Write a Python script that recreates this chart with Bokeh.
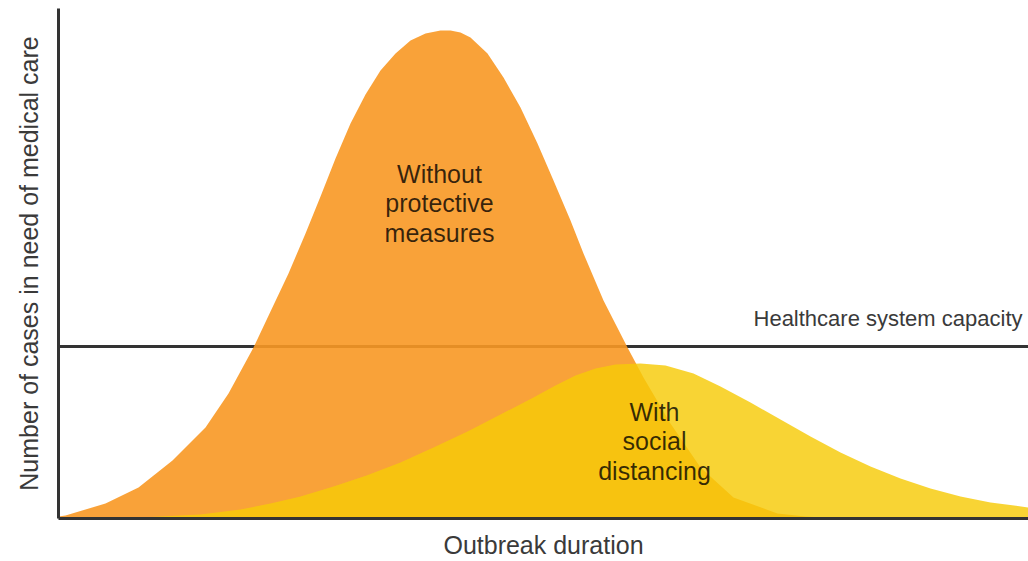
from bokeh.plotting import figure
from bokeh.models import Span, Label, FixedTicker
from bokeh.embed import file_html
from bokeh.resources import INLINE

# ---- data ----
x_label = "Outbreak duration"
y_label = "Number of cases in need of medical care"
capacity_label = "Healthcare system capacity"
label_without = "Without\nprotective\nmeasures"
label_with = "With\nsocial\ndistancing"

capacity = 34.4

without_x = [0, 0.7, 4.7, 8.0, 11.4, 14.7, 17.0, 19.5, 21.2, 23.0, 24.7, 26.2, 27.7,
             29.2, 30.7, 32.2, 33.7, 35.2, 36.7, 38.2, 39.2, 40.2, 41.2, 42.9, 44.5,
             46.2, 47.9, 49.5, 51.2, 52.5, 54.5, 56.9, 58.5, 61.2, 64.2, 67.5, 71.9,
             74.7, 78.2]
without_y = [0.4, 0.6, 3.0, 6.2, 11.6, 18.2, 25.0, 34.2, 41.4, 49.0, 57.0, 64.4, 72.0,
             79.0, 84.8, 89.6, 93.0, 95.6, 97.0, 97.6, 97.6, 97.2, 96.2, 93.0, 88.2,
             82.2, 75.0, 67.6, 59.6, 53.0, 43.6, 34.2, 28.2, 19.0, 10.2, 4.2, 1.0,
             0.4, 0.0]

with_x = [0, 4.2, 9.2, 14.2, 18.2, 21.2, 24.2, 27.5, 30.8, 34.2, 37.5, 40.9, 44.2,
          47.5, 49.7, 51.7, 53.7, 55.7, 58.2, 60.7, 63.5, 66.2, 69.2, 72.2, 75.2,
          78.2, 81.2, 84.2, 87.2, 90.2, 93.2, 97.0]
with_y = [0.0, 0.06, 0.3, 0.8, 1.8, 3.0, 4.4, 6.4, 8.6, 11.2, 14.2, 17.4, 20.8,
          24.2, 26.6, 28.6, 30.0, 30.8, 31.0, 30.6, 29.0, 26.4, 23.2, 19.8, 16.4,
          13.2, 10.4, 8.0, 6.0, 4.4, 3.2, 2.2]

# ---- figure ----
p = figure(width=1028, height=561, x_range=(0, 97), y_range=(0, 102),
           output_backend="svg", toolbar_location=None,
           min_border_left=58, min_border_right=0, min_border_top=8, min_border_bottom=43)
p.outline_line_color = None
p.grid.visible = False
p.background_fill_color = "white"

span = Span(location=capacity, dimension="width", line_color="#333333", line_width=3, level="underlay")
p.add_layout(span)

p.varea(x=without_x, y1=0, y2=without_y, fill_color="#F89824", fill_alpha=0.9)
p.varea(x=with_x, y1=0, y2=with_y, fill_color="#F6CA07", fill_alpha=0.82)

for ax in (p.xaxis[0], p.yaxis[0]):
    ax.ticker = FixedTicker(ticks=[])
    ax.major_tick_in = 0
    ax.major_tick_out = 0
    ax.minor_tick_in = 0
    ax.minor_tick_out = 0
    ax.major_label_standoff = 0
    ax.axis_line_color = "#333333"
    ax.axis_line_width = 3
    ax.axis_label_text_font = "Liberation Sans"
    ax.axis_label_text_font_style = "normal"
    ax.axis_label_text_font_size = "25px"
    ax.axis_label_text_color = "#3a3a3a"

p.xaxis.axis_label = x_label
p.xaxis.axis_label_standoff = 12
p.yaxis.axis_label = y_label
p.yaxis.axis_label_standoff = 16

common = dict(text_font="Liberation Sans", text_font_size="25px", text_color="black",
              text_alpha=0.78, text_align="center", text_baseline="middle", text_line_height=1.04)
p.add_layout(Label(x=38.1, y=63, text=label_without, **common))
p.add_layout(Label(x=59.6, y=15.4, text=label_with, **common))
p.add_layout(Label(x=96.4, y=40, text=capacity_label, text_font="Liberation Sans",
                   text_font_size="22px", text_color="#3a3a3a", text_align="right",
                   text_baseline="middle"))

open("out.html", "w").write(file_html(p, INLINE))
